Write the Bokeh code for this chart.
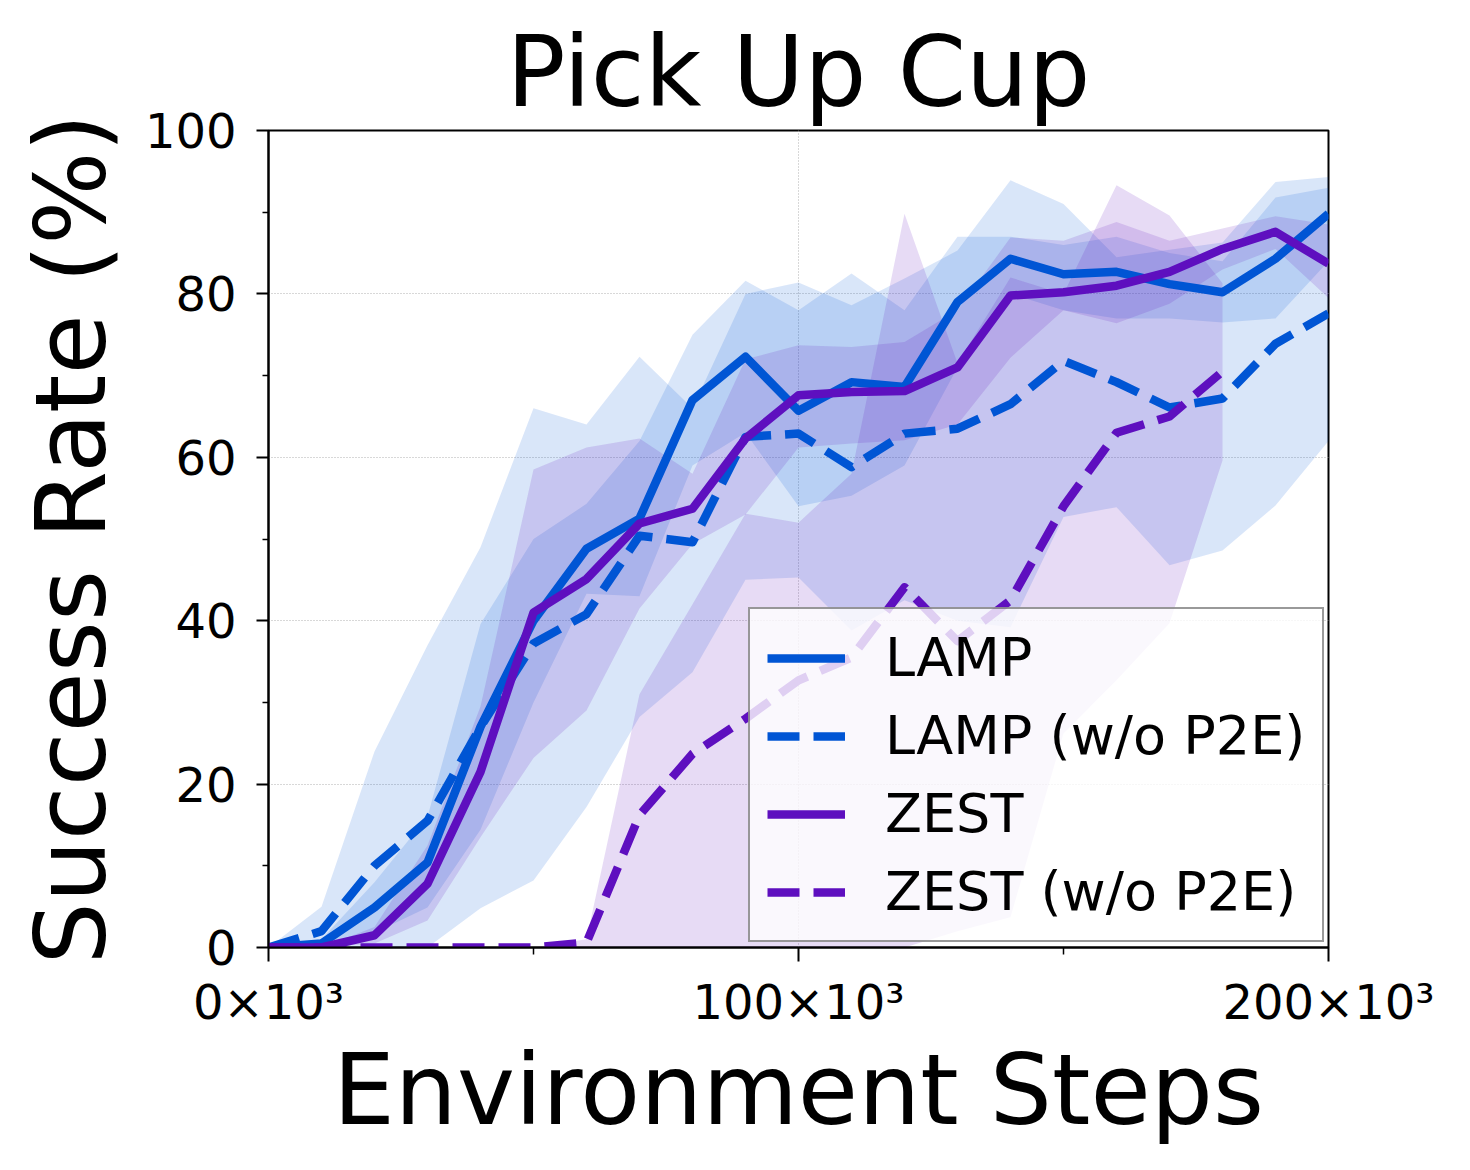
from bokeh.plotting import figure
from bokeh.models import FixedTicker, Range1d
from bokeh.embed import file_html
from bokeh.resources import INLINE

# ---------------- data ----------------
steps = [0, 10000, 20000, 30000, 40000, 50000, 60000, 70000, 80000, 90000, 100000,
         110000, 120000, 130000, 140000, 150000, 160000, 170000, 180000, 190000, 200000]

lamp_mean = [0, 0.5, 4.9, 10.4, 27, 40, 48.8, 52.5, 67, 72.3, 65.7,
             69.2, 68.6, 79, 84.3, 82.4, 82.7, 81.2, 80.2, 84.3, 89.8]
lamp_hi = [0, 1, 8, 16, 39.6, 50, 54.3, 62, 75, 81.6, 78,
           82.5, 78, 87, 87, 86, 87, 85, 84, 91.8, 93]
lamp_lo = [0, 0, 1.8, 4.9, 14.4, 30, 43.3, 43, 59, 63, 54,
           55.3, 59, 71, 80, 78, 77, 77, 76.5, 77, 84]

lampn_mean = [0, 2, 10, 15.5, 27, 37.2, 40.8, 50.4, 49.6, 62.5, 62.9,
              58.8, 62.9, 63.5, 66.5, 71.8, 69.2, 66.1, 67.2, 73.9, 77.6]
lampn_hi = [0, 5, 24, 37, 49, 66, 64, 72.3, 66, 80, 81.4,
            78.6, 81.9, 85.3, 93.9, 91, 84.5, 85.4, 86.3, 93.7, 94.3]
lampn_lo = [0, 0, 0, 0, 4.8, 8.2, 17.2, 28.2, 33.7, 45, 45.3,
            38.8, 42.5, 40, 39.2, 52.7, 53.9, 46.8, 48.6, 54.1, 62]

zest_mean = [0, 0, 1.5, 7.8, 21.5, 41, 45.1, 51.9, 53.7, 62.3, 67.6,
             68, 68.1, 71, 79.8, 80.2, 81, 82.7, 85.5, 87.6, 83.7]
zest_hi = [0, 0, 2.5, 12.5, 29.5, 58.5, 61.2, 62.3, 58, 72, 73.7,
           73.5, 74.1, 78, 86.9, 86.5, 88.8, 86.5, 88, 89.5, 88.5]
zest_lo = [0, 0, 0.5, 3.3, 13.5, 23.2, 29, 41.5, 49.4, 53, 61.2,
           61.7, 62.1, 64, 72.2, 78, 76.4, 78.8, 83, 85.5, 79.5]

zestn_steps = [0, 10000, 20000, 30000, 40000, 50000, 60000, 70000, 80000, 90000, 100000,
               110000, 120000, 130000, 140000, 150000, 160000, 170000, 180000]
zestn_mean = [0, 0, 0, 0, 0, 0, 0.6, 16.2, 23.7, 28, 32.7,
              35.5, 44.1, 37.5, 42.5, 54, 63, 65, 70.5]
zestn_hi = [0, 0, 0, 0, 0, 0, 1, 31, 42, 53.1, 52,
            58, 89.8, 71.5, 82, 80, 93.3, 89.6, 81.3]
zestn_lo = [0, 0, 0, 0, 0, 0, 0, 0, 0, 0, 0,
            0, 0, 2, 3.7, 26.2, 32.7, 39.7, 59.6]

labels = ["LAMP", "LAMP (w/o P2E)", "ZEST", "ZEST (w/o P2E)"]
x_tick_labels = {0: "0×10³", 100000: "100×10³", 200000: "200×10³"}

BLUE = "#0055d4"
PURPLE = "#5e0fbf"
FONT = "DejaVu Sans"
BIG = "98px"

# ---------------- figure ----------------
p = figure(frame_width=1060, frame_height=817,
           min_border_left=268, min_border_right=134,
           min_border_top=130, min_border_bottom=211,
           x_range=Range1d(0, 200000), y_range=Range1d(0, 100),
           output_backend="svg", toolbar_location=None,
           background_fill_color="white", border_fill_color="white")

p.title.text = "Pick Up Cup"
p.title.align = "center"
p.title.text_font = FONT
p.title.text_font_size = BIG
p.title.text_font_style = "normal"
p.title.text_color = "black"
p.title.standoff = 4

# bands
p.varea(x=steps, y1=lamp_lo, y2=lamp_hi, fill_color=BLUE, fill_alpha=0.15)
p.varea(x=steps, y1=lampn_lo, y2=lampn_hi, fill_color=BLUE, fill_alpha=0.15)
p.varea(x=steps, y1=zest_lo, y2=zest_hi, fill_color=PURPLE, fill_alpha=0.15)
p.varea(x=zestn_steps, y1=zestn_lo, y2=zestn_hi, fill_color=PURPLE, fill_alpha=0.15)

# lines
LW = 8.5
DASH = "32 14"
p.line(steps, lamp_mean, line_color=BLUE, line_width=LW, line_join="round",
       legend_label=labels[0])
p.line(steps, lampn_mean, line_color=BLUE, line_width=LW, line_dash=DASH,
       line_join="round", legend_label=labels[1])
p.line(steps, zest_mean, line_color=PURPLE, line_width=LW, line_join="round",
       legend_label=labels[2])
p.line(zestn_steps, zestn_mean, line_color=PURPLE, line_width=LW, line_dash=DASH,
       line_join="round", legend_label=labels[3])

# axes
p.xaxis.ticker = FixedTicker(ticks=[0, 100000, 200000], minor_ticks=[50000, 150000])
p.yaxis.ticker = FixedTicker(ticks=[0, 20, 40, 60, 80, 100], minor_ticks=[10, 30, 50, 70, 90])
p.xaxis.major_label_overrides = x_tick_labels

for ax in (p.xaxis[0], p.yaxis[0]):
    ax.axis_line_color = "black"
    ax.axis_line_width = 2
    ax.major_tick_line_color = "black"
    ax.major_tick_line_width = 2
    ax.minor_tick_line_color = "black"
    ax.minor_tick_line_width = 1.5
    ax.major_tick_in = 0
    ax.minor_tick_in = 0
    ax.major_label_text_font = FONT
    ax.major_label_text_font_size = "48px"
    ax.major_label_text_color = "black"
    ax.axis_label_text_font = FONT
    ax.axis_label_text_font_size = BIG
    ax.axis_label_text_font_style = "normal"
    ax.axis_label_text_color = "black"

p.xaxis.axis_label = "Environment Steps"
p.yaxis.axis_label = "Success Rate (%)"
p.xaxis.major_tick_out = 14
p.xaxis.minor_tick_out = 7
p.yaxis.major_tick_out = 12
p.yaxis.minor_tick_out = 6
p.xaxis.major_label_standoff = 12
p.yaxis.major_label_standoff = 20
p.xaxis.axis_label_standoff = 0
p.yaxis.axis_label_standoff = 14

p.xgrid.grid_line_color = "#b0b0b0"
p.ygrid.grid_line_color = "#b0b0b0"
p.xgrid.grid_line_dash = "1 2"
p.ygrid.grid_line_dash = "1 2"
p.xgrid.grid_line_width = 1
p.ygrid.grid_line_width = 1

p.outline_line_color = "black"
p.outline_line_width = 2
p.outline_line_alpha = 1

# legend
lg = p.legend[0]
lg.location = (480, 5)
lg.label_text_font = FONT
lg.label_text_font_size = "54px"
lg.label_text_color = "black"
lg.glyph_width = 78
lg.glyph_height = 54
lg.label_standoff = 40
lg.padding = 17
lg.spacing = 15
lg.margin = 0
lg.background_fill_color = "white"
lg.background_fill_alpha = 0.8
lg.border_line_color = "#333333"
lg.border_line_width = 2

open("out.html", "w").write(file_html(p, INLINE))
